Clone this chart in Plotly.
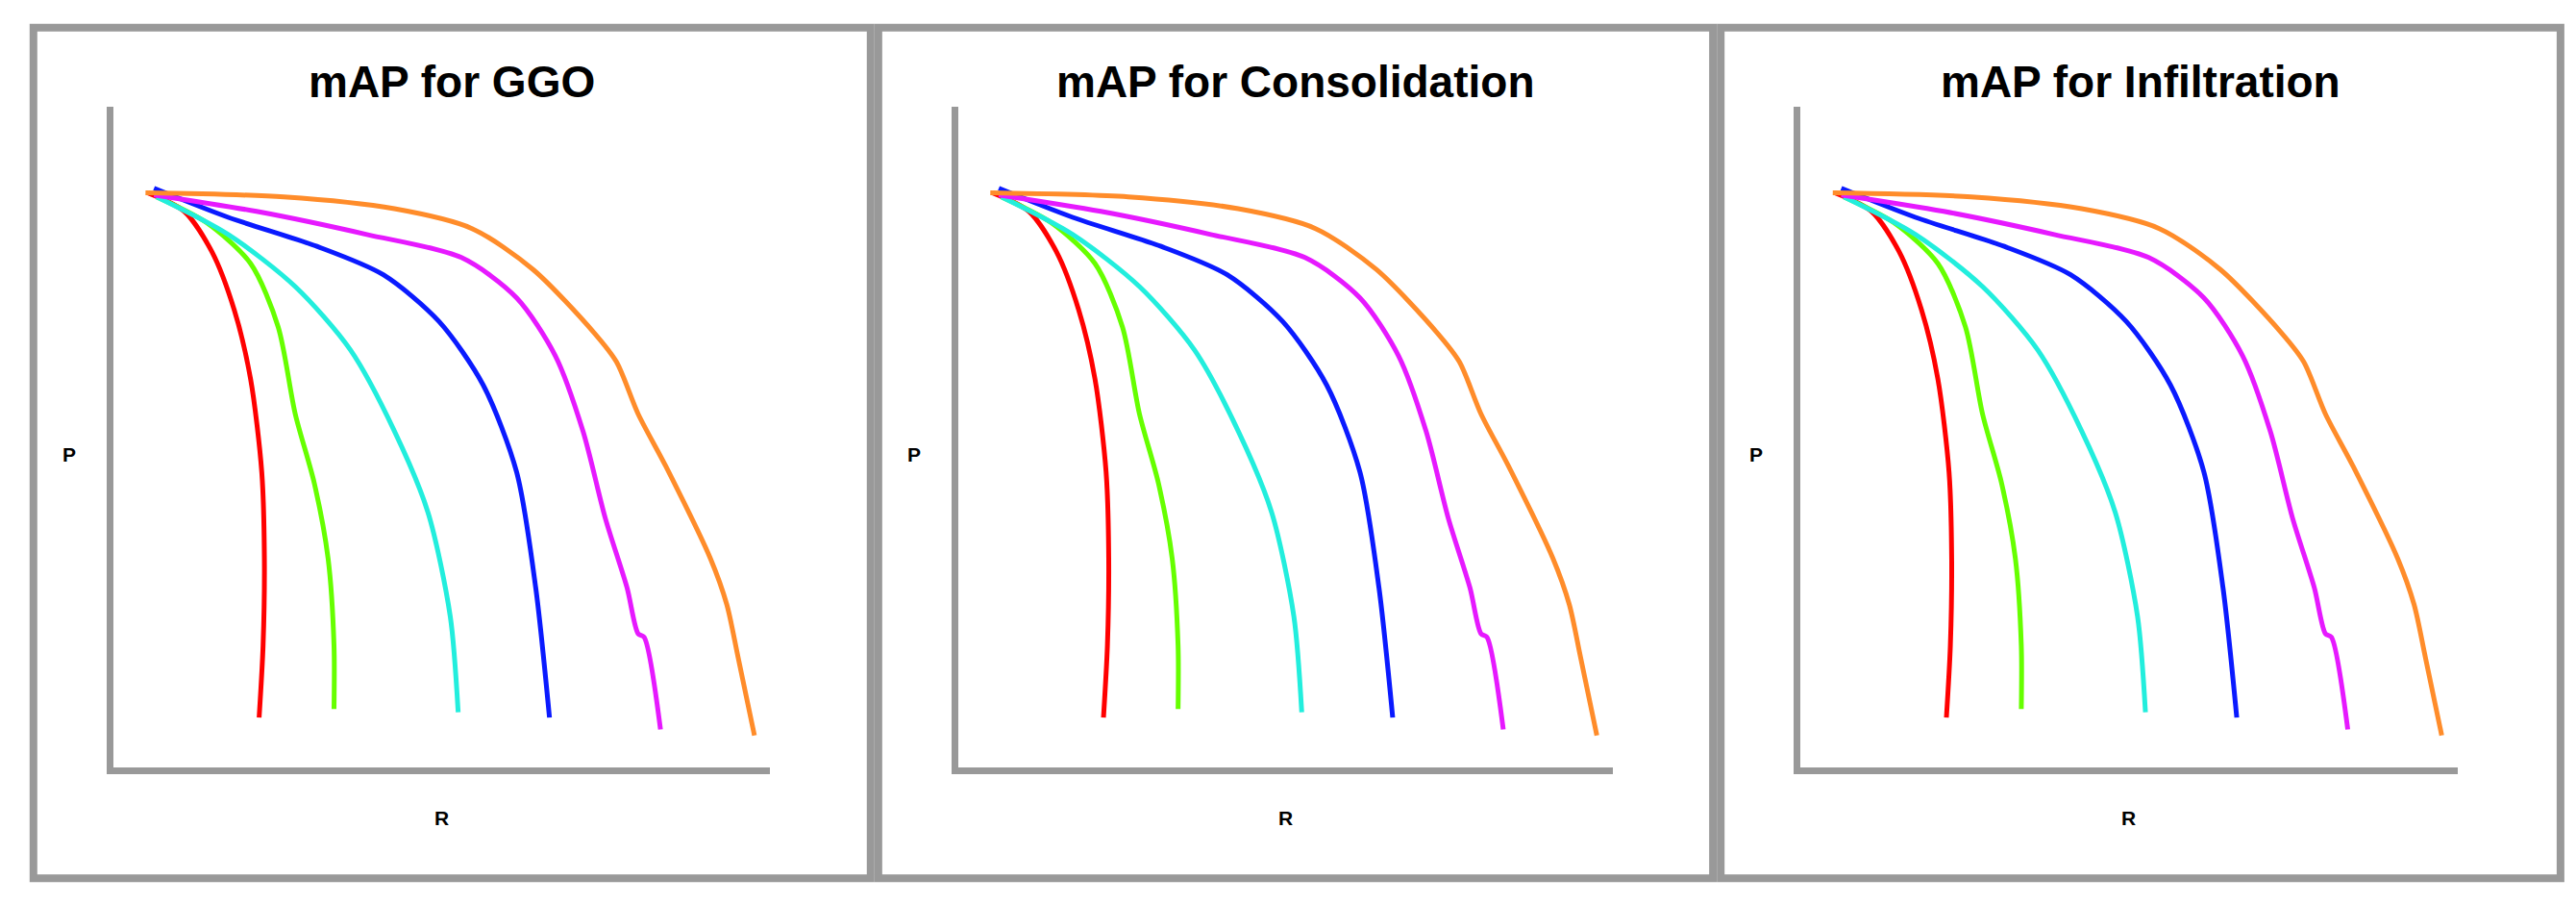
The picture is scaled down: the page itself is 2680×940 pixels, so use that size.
import plotly.graph_objects as go

# Precision-recall curves (recall, precision), same for every panel
titles = ["mAP for GGO", "mAP for Consolidation", "mAP for Infiltration"]
colors = ["#ff0000", "#66ff00", "#22eedd", "#0a1aff", "#e619ff", "#ff8c2a"]

red_r = [0.053, 0.108, 0.150, 0.184, 0.209, 0.226, 0.230, 0.228, 0.222]
red_p = [0.870, 0.842, 0.781, 0.693, 0.588, 0.447, 0.316, 0.184, 0.075]
green_r = [0.066, 0.142, 0.209, 0.251, 0.277, 0.306, 0.327, 0.336, 0.336]
green_p = [0.864, 0.825, 0.763, 0.667, 0.535, 0.430, 0.316, 0.184, 0.088]
cyan_r = [0.066, 0.175, 0.277, 0.361, 0.428, 0.479, 0.513, 0.525]
cyan_p = [0.864, 0.807, 0.728, 0.632, 0.509, 0.386, 0.228, 0.083]
blue_r = [0.062, 0.175, 0.310, 0.411, 0.496, 0.563, 0.614, 0.643, 0.664]
blue_p = [0.877, 0.833, 0.789, 0.746, 0.675, 0.579, 0.447, 0.272, 0.075]
magenta_r = [0.062, 0.218, 0.386, 0.530, 0.614, 0.673, 0.715, 0.749, 0.782, 0.799, 0.808, 0.833]
magenta_p = [0.867, 0.842, 0.807, 0.772, 0.711, 0.623, 0.509, 0.377, 0.272, 0.202, 0.197, 0.057]
orange_r = [0.049, 0.260, 0.428, 0.546, 0.639, 0.732, 0.766, 0.799, 0.841, 0.909, 0.934, 0.951, 0.976]
orange_p = [0.870, 0.864, 0.846, 0.816, 0.754, 0.658, 0.614, 0.535, 0.456, 0.316, 0.246, 0.167, 0.048]

curves = [(red_r, red_p), (green_r, green_p), (cyan_r, cyan_p),
          (blue_r, blue_p), (magenta_r, magenta_p), (orange_r, orange_p)]

x_domains = [(0.041, 0.296), (0.369, 0.623), (0.696, 0.951)]
boxes = [(0.010, 0.335), (0.338, 0.662), (0.665, 0.991)]

fig = go.Figure()
annotations = []
shapes = []
for i, title in enumerate(titles):
    sfx = "" if i == 0 else str(i + 1)
    for (r, p), c in zip(curves, colors):
        fig.add_trace(go.Scatter(
            x=r, y=p, mode="lines", line=dict(color=c, width=5, shape="spline", smoothing=0.8),
            xaxis="x" + sfx, yaxis="y" + sfx, showlegend=False,
        ))
    axis_style = dict(range=[0, 1], showline=True, linecolor="#999999", linewidth=7,
                      showgrid=False, zeroline=False, showticklabels=False, ticks="")
    fig.update_layout(**{
        "xaxis" + sfx: dict(domain=x_domains[i], anchor="y" + sfx, **axis_style),
        "yaxis" + sfx: dict(domain=[0.16, 0.89], anchor="x" + sfx, **axis_style),
    })
    x0, x1 = x_domains[i]
    annotations.append(dict(text="<b>%s</b>" % title, x=(boxes[i][0] + boxes[i][1]) / 2,
                            y=0.918, xref="paper", yref="paper", showarrow=False,
                            xanchor="center", yanchor="middle",
                            font=dict(size=46, color="black")))
    annotations.append(dict(text="<b>P</b>", x=boxes[i][0] + 0.0137, y=0.506,
                            xref="paper", yref="paper", showarrow=False,
                            xanchor="center", yanchor="middle",
                            font=dict(size=21, color="black")))
    annotations.append(dict(text="<b>R</b>", x=(x0 + x1) / 2, y=0.104,
                            xref="paper", yref="paper", showarrow=False,
                            xanchor="center", yanchor="middle",
                            font=dict(size=21, color="black")))
    shapes.append(dict(type="rect", xref="paper", yref="paper", x0=boxes[i][0], x1=boxes[i][1],
                       y0=0.037, y1=0.978, line=dict(color="#999999", width=8)))

fig.update_layout(
    width=2680, height=940,
    margin=dict(l=0, r=0, t=0, b=0),
    plot_bgcolor="white", paper_bgcolor="white",
    font=dict(family="Liberation Sans, Arial, sans-serif"),
    annotations=annotations, shapes=shapes,
)

fig.write_html("out.html")
